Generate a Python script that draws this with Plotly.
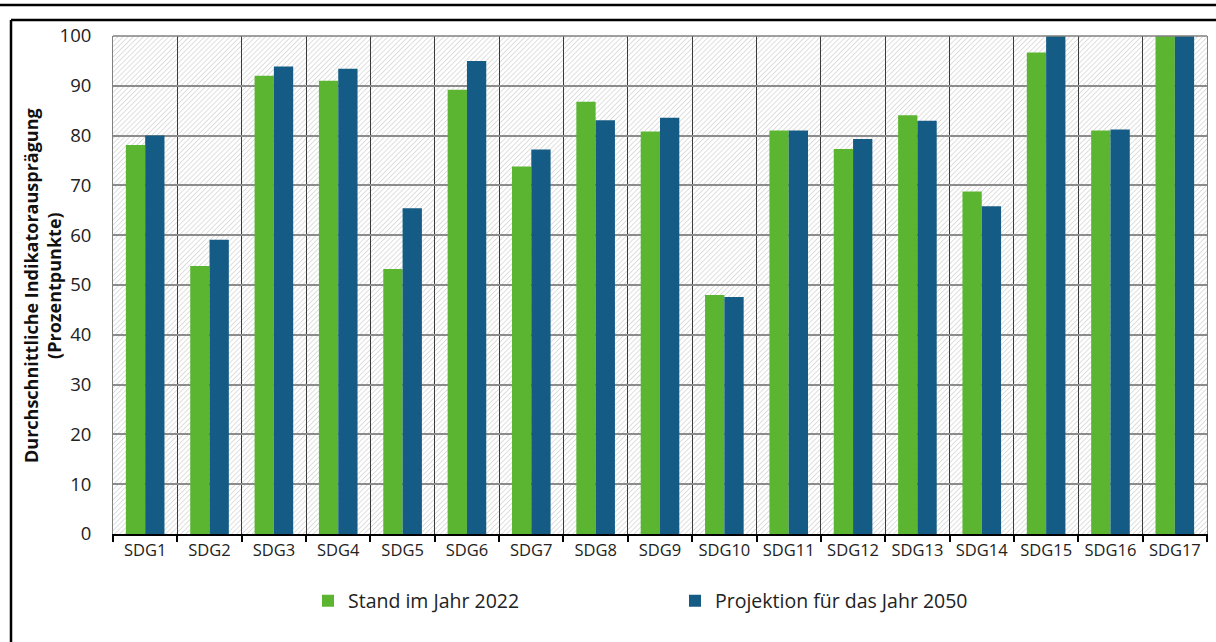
import base64
import plotly.graph_objects as go

categories = ["SDG1", "SDG2", "SDG3", "SDG4", "SDG5", "SDG6", "SDG7", "SDG8", "SDG9",
              "SDG10", "SDG11", "SDG12", "SDG13", "SDG14", "SDG15", "SDG16", "SDG17"]
stand_2022 = [78.1, 53.8, 92.0, 91.0, 53.2, 89.2, 73.8, 86.8, 80.8,
              48.0, 81.0, 77.3, 84.1, 68.8, 96.7, 81.0, 100.0]
projektion_2050 = [80.0, 59.1, 93.9, 93.4, 65.4, 95.0, 77.2, 83.1, 83.6,
                   47.6, 81.0, 79.3, 83.0, 65.8, 100.0, 81.2, 100.0]
y_ticks = [0, 10, 20, 30, 40, 50, 60, 70, 80, 90, 100]
Y_MAX = 100

FONT = "Open Sans"
GREEN = "#5cb531"
BLUE = "#145c85"

# pixel geometry helpers (plot area: x 113..1207, y 36..534)
L, R, T, B = 113, 1207, 36, 534
PW, PH = R - L, B - T
def px(x):
    return (x - L) / PW
def py(y):
    return (B - y) / PH

# hatched background image for the plot area (decoration)
svg = (
    f'<svg xmlns="http://www.w3.org/2000/svg" width="{PW}" height="{PH}" viewBox="0 0 {PW} {PH}">'
    '<defs><pattern id="h" width="3.6" height="3.6" patternUnits="userSpaceOnUse" '
    'patternTransform="rotate(45)">'
    '<line x1="0" y1="0" x2="0" y2="3.6" stroke="#c4c4c4" stroke-width="1.1"/>'
    '</pattern></defs>'
    f'<rect width="{PW}" height="{PH}" fill="white"/>'
    f'<rect width="{PW}" height="{PH}" fill="url(#h)"/>'
    '</svg>'
)
hatch_uri = "data:image/svg+xml;base64," + base64.b64encode(svg.encode()).decode()

fig = go.Figure()
fig.add_trace(go.Bar(
    x=categories, y=stand_2022, name="Stand im Jahr 2022",
    width=0.3, offset=-0.3, marker=dict(color=GREEN, line=dict(width=0)),
))
fig.add_trace(go.Bar(
    x=categories, y=projektion_2050, name="Projektion für das Jahr 2050",
    width=0.3, offset=0.0, marker=dict(color=BLUE, line=dict(width=0)),
))

fig.update_layout(
    width=1216, height=642,
    margin=dict(l=L, r=1216 - R, t=T, b=642 - B),
    paper_bgcolor="white", plot_bgcolor="rgba(0,0,0,0)",
    barmode="overlay",
    font=dict(family=FONT, size=16, color="#222222"),
    legend=dict(orientation="h", x=px(308), y=py(601), xanchor="left", yanchor="middle",
                entrywidth=322, entrywidthmode="pixels",
                font=dict(family=FONT, size=19.5, color="#222222"),
                bgcolor="rgba(0,0,0,0)"),
    xaxis=dict(type="category", tickson="boundaries", showgrid=True,
               gridcolor="#3a3a3a", gridwidth=1,
               showline=True, linecolor="black", linewidth=2,
               ticks="outside", ticklen=6, tickwidth=2, tickcolor="black",
               tickfont=dict(family=FONT, size=16.5, color="#222222"),
               range=[-0.5, len(categories) - 0.5]),
    yaxis=dict(range=[0, Y_MAX], tickvals=y_ticks, showgrid=True,
               gridcolor="#8c8c8c", gridwidth=1.5, zeroline=False,
               showline=True, linecolor="#808080", linewidth=1, mirror=True,
               ticks="outside", ticklen=17, tickcolor="rgba(0,0,0,0)",
               tickfont=dict(family=FONT, size=18.5, color="#222222")),
    showlegend=True,
    images=[dict(source=hatch_uri, xref="paper", yref="paper", x=0, y=1,
                 sizex=1, sizey=1, sizing="stretch", xanchor="left", yanchor="top",
                 layer="below")],
)

# y-axis title as rotated annotation
fig.add_annotation(
    text="<b>Durchschnittliche Indikatorausprägung<br>(Prozentpunkte)</b>",
    xref="paper", yref="paper", x=px(42), y=py(286),
    xanchor="center", yanchor="middle", textangle=-90, showarrow=False,
    font=dict(family=FONT, size=18, color="#111111"),
)

# decorative frame lines
shapes = [
    dict(type="line", xref="paper", yref="paper", x0=px(0), x1=px(1216), y0=py(5), y1=py(5),
         line=dict(color="black", width=2.5)),
    dict(type="line", xref="paper", yref="paper", x0=px(11), x1=px(1216), y0=py(20), y1=py(20),
         line=dict(color="black", width=2.5)),
    dict(type="line", xref="paper", yref="paper", x0=px(11), x1=px(11), y0=py(20), y1=py(645),
         line=dict(color="black", width=2.5)),
    dict(type="line", xref="paper", yref="paper", x0=0, x1=1, y0=1, y1=1,
         line=dict(color="#808080", width=1.5)),
]
fig.update_layout(shapes=shapes)

fig.write_html("out.html")
